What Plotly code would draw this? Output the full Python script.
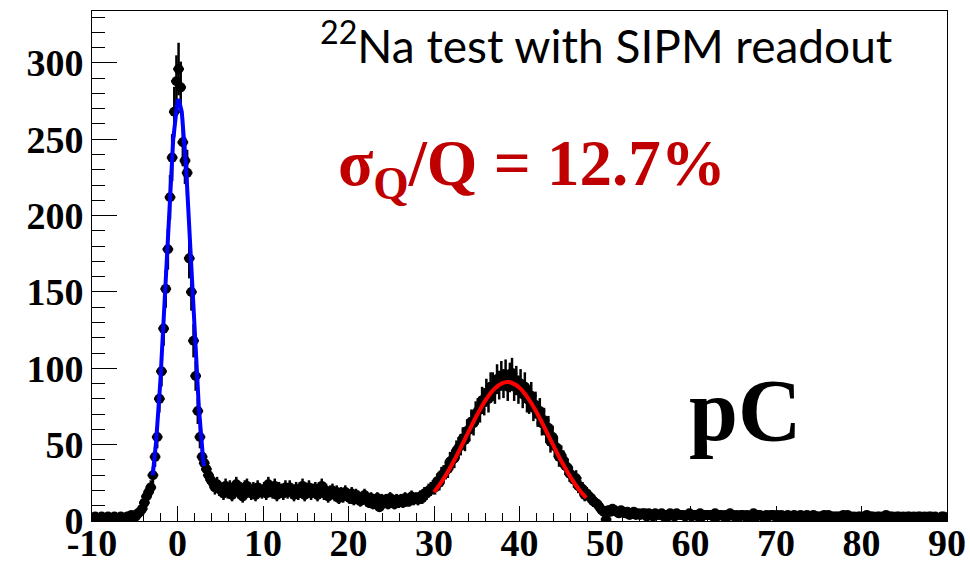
import numpy as np
import plotly.graph_objects as go

# Histogram: 400 bins of 0.25 pC from -10 to 90
bin_lo = -10.0
bin_w = 0.25

counts_left = [2,3,2,1, 3,2,2,3, 2,1,3,2, 2,3,2,2, 3,2,4,3, 3,5,6,8]          # -10 .. -4
counts_ped = [12,16,19,22, 30,42,55,80, 98,126,152,178, 212,238,268,288,
              296,284,248,236, 228,172,150,118, 95,72,55,42, 38,34,30,27,
              25,22,24,21]                                                    # -4 .. 5
counts_bg = [20,18,23,19, 22,17,21,24, 19,21,16,22, 23,20,18,21, 17,22,20,19,
             21,18,24,20, 19,23,17,21, 20,18,22,19, 22,19,17,21, 18,20,23,17,
             19,22,18,20, 21,17,19,23, 18,20,16,19, 20,17,19,15, 18,16,19,17,
             15,18,14,17, 16,13,15,17, 14,12,15,11, 13,15,9,14, 12,14,11,15,
             13,11,14,12, 14,12,15,13, 13,16,14,15]                           # 5 .. 28
counts_sig = [14,16,15,18, 18,20,21,22,
              22,26,25,30, 31,33,34,39, 40,41,46,48, 50,54,53,59, 60,65,64,70,
              72,73,79,78, 84,80,88,88, 86,93,89,95, 90,96,88,94, 97,88,92,86,
              90,83,88,80, 79,82,74,76, 70,72,64,66, 59,61,52,55, 49,48,42,43,
              40,36,35,31, 30,27,28,23, 22,21,17,18, 16,15,13,12, 11,9,7,6]   # 28 .. 50
counts_tail = [1,7,6,8, 7,6,5,7, 6,5,6,4, 5,6,4,5, 4,5,5,3,
               5,4,3,5, 4,4,5,3, 4,3,5,4, 3,5,4,4, 4,3,4,5, 3,4,4,3, 5,3,4,4,
               4,4,3,5, 3,4,4,3, 4,3,5,4, 3,4,3,4, 4,3,4,3, 3,5,3,4, 4,3,3,4,
               3,4,4,3, 4,3,4,2, 3,4,3,3, 4,3,3,4, 3,3,4,3, 2,4,3,3, 3,3,4,3,
               4,2,3,3, 3,3,2,4, 3,4,3,2, 3,2,3,3, 2,3,4,3, 3,3,2,3, 3,2,3,4,
               2,3,3,2, 3,3,2,3, 2,3,3,2, 3,2,3,3, 2,3,2,3, 3,2,3,2, 2,3,3,2]  # 50 .. 90

# Fit curves
fit_ped_x = [-2.9, -2.5, -2.0, -1.5, -1.0, -0.5, 0.0, 0.15, 0.5, 1.0, 1.5, 2.0, 2.5, 3.0, 3.1]
fit_ped_y = [30, 52, 92, 144, 202, 250, 275, 276, 268, 232, 179, 122, 74, 40, 36]
fit_sig_x = [30, 31, 32, 33, 34, 35, 36, 37, 38, 38.6, 39, 40, 41, 42, 43, 44, 45, 46, 47, 47.8]
fit_sig_y = [18.9, 26.6, 36.0, 46.7, 58.0, 69.1, 78.8, 86.2, 90.3, 91.0, 90.7, 87.3, 80.5,
             71.2, 60.3, 49.0, 38.1, 28.4, 20.3, 15.1]

x_ticks = [-10, 0, 10, 20, 30, 40, 50, 60, 70, 80, 90]
y_ticks = [0, 50, 100, 150, 200, 250, 300]

counts = np.array(counts_left + counts_ped + counts_bg + counts_sig + counts_tail, dtype=float)
centers = bin_lo + bin_w * (np.arange(len(counts)) + 0.5)
errors = np.sqrt(counts)

fig = go.Figure()
fig.add_trace(go.Scatter(
    x=centers, y=counts, mode="markers",
    marker=dict(symbol="circle", size=10, color="black"),
    error_y=dict(type="data", array=errors, visible=True, color="black", thickness=2.5, width=0),
    error_x=dict(type="constant", value=bin_w * 2.5, visible=True, color="black", thickness=2.5, width=0),
    showlegend=False, hoverinfo="skip"))
fig.add_trace(go.Scatter(x=fit_ped_x, y=fit_ped_y, mode="lines",
                         line=dict(color="rgb(0,0,255)", width=4), showlegend=False))
fig.add_trace(go.Scatter(x=fit_sig_x, y=fit_sig_y, mode="lines", line_shape="spline",
                         line=dict(color="rgb(255,0,0)", width=4), showlegend=False))

tickfont = dict(family="Liberation Serif", size=38, color="black", weight="bold")
fig.update_xaxes(range=[-10, 90], tickvals=x_ticks, ticktext=[str(v) for v in x_ticks],
                 ticks="inside", ticklen=15, tickwidth=1, tickcolor="black",
                 minor=dict(ticks="inside", ticklen=8, dtick=2, tickcolor="black", tickwidth=1),
                 showline=True, linecolor="black", linewidth=1, mirror=True, automargin=False,
                 showgrid=False, zeroline=False, tickfont=tickfont, ticklabelstandoff=-12)
fig.update_yaxes(range=[0, 334], tickvals=y_ticks, ticktext=[str(v) for v in y_ticks],
                 ticks="inside", ticklen=25, tickwidth=1, tickcolor="black",
                 minor=dict(ticks="inside", ticklen=13, dtick=10, tickcolor="black", tickwidth=1),
                 showline=True, linecolor="black", linewidth=1, mirror=True, automargin=False,
                 showgrid=False, zeroline=False, tickfont=tickfont)

fig.add_annotation(xref="paper", yref="paper", x=0.264, y=0.938, xanchor="left", yanchor="middle",
                   text="<sup>22</sup>Na test with SIPM readout", showarrow=False,
                   font=dict(family="Lato", size=46, color="black"))
fig.add_annotation(xref="paper", yref="paper", x=0.285, y=0.692, xanchor="left", yanchor="middle",
                   text="σ<sub>Q</sub>/Q = 12.7%", showarrow=False,
                   font=dict(family="Liberation Serif", size=65, color="rgb(192,0,0)", weight="bold"))
fig.add_annotation(xref="paper", yref="paper", x=0.764, y=0.217, xanchor="center", yanchor="middle",
                   text="pC", showarrow=False,
                   font=dict(family="Liberation Serif", size=88, color="black", weight="bold"))

fig.update_layout(width=970, height=564, margin=dict(l=92, r=23, t=11, b=43, autoexpand=False),
                  paper_bgcolor="white", plot_bgcolor="white")
fig.write_html("out.html")
